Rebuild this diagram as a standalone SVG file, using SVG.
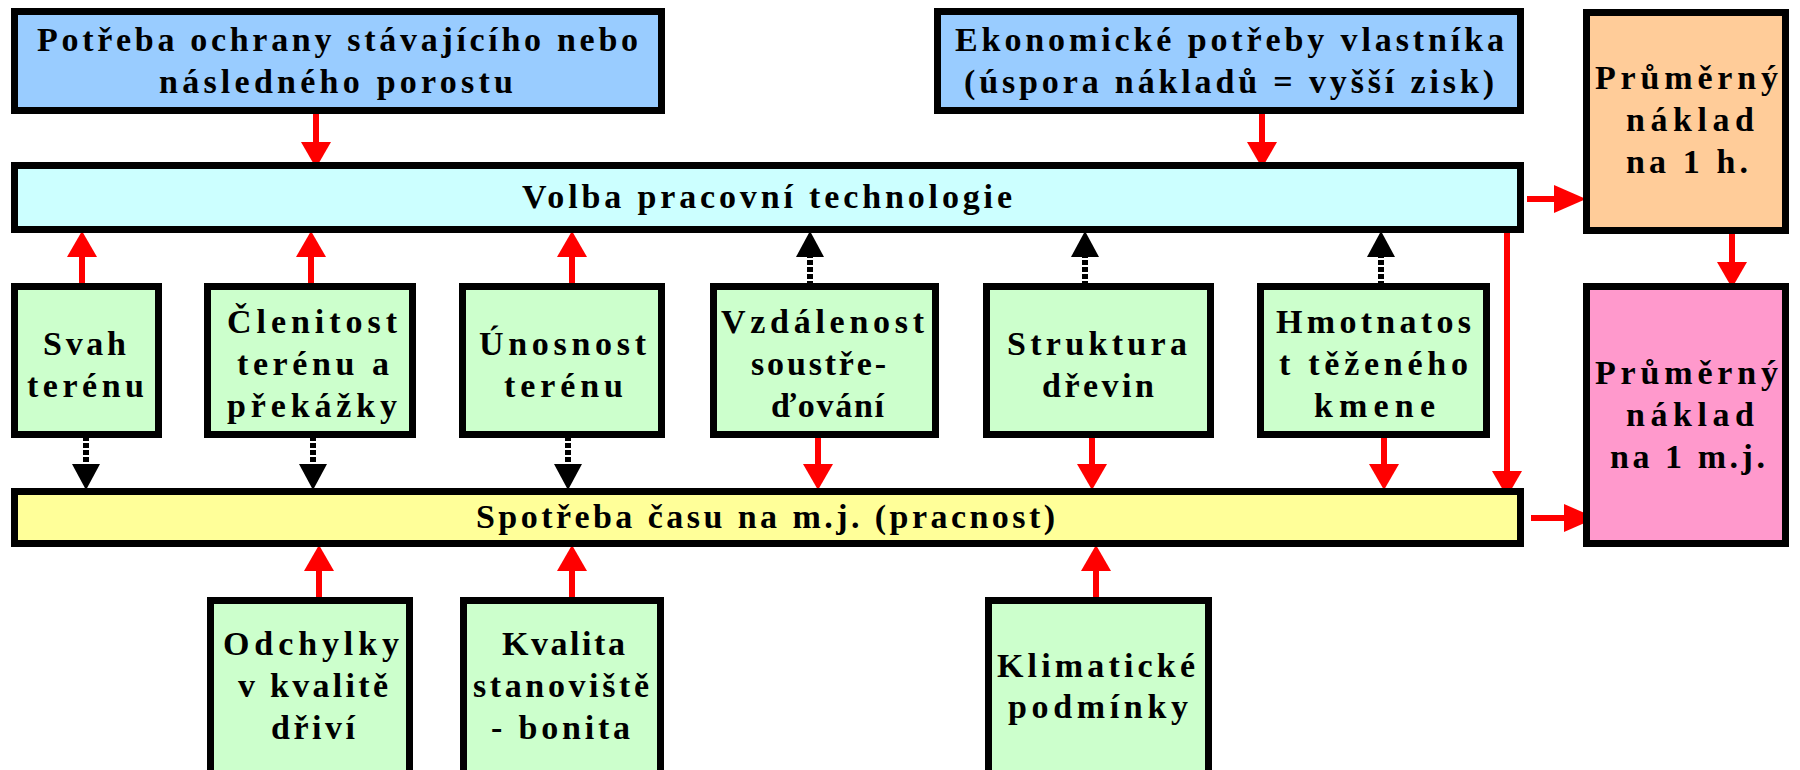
<svg xmlns="http://www.w3.org/2000/svg" width="1800" height="770" viewBox="0 0 1800 770">
<style>
.box{stroke:#000;stroke-width:7}
.blue{fill:#99CCFF}.cyan{fill:#CCFFFF}.green{fill:#CCFFCC}.yellow{fill:#FFFF99}.orange{fill:#FFCC99}.pink{fill:#FF99CC}
text{font-family:"Liberation Serif","Times New Roman",serif;font-weight:bold;font-size:34px;fill:#000}
.red{stroke:#FF0000;stroke-width:6;fill:none}
.dash{stroke:#000;stroke-width:6;stroke-dasharray:5 2;fill:none}
</style>
<defs>
<marker id="ar" markerUnits="userSpaceOnUse" viewBox="0 0 26 30" markerWidth="26" markerHeight="30" refX="6" refY="15" orient="auto"><path d="M0,0 L26,15 L0,30 z" fill="#FF0000"/></marker>
<marker id="arh" markerUnits="userSpaceOnUse" viewBox="0 0 32 28" markerWidth="32" markerHeight="28" refX="8" refY="14" orient="auto"><path d="M0,0 L32,14 L0,28 z" fill="#FF0000"/></marker>
<marker id="ab" markerUnits="userSpaceOnUse" viewBox="0 0 26 28" markerWidth="26" markerHeight="28" refX="6" refY="14" orient="auto"><path d="M0,0 L26,14 L0,28 z" fill="#000"/></marker>
</defs>
<rect width="1800" height="770" fill="#fff"/>

<g id="connectors">
<line class="red" x1="316" y1="114" x2="316" y2="148" marker-end="url(#ar)"/>
<line class="red" x1="1262" y1="114" x2="1262" y2="148" marker-end="url(#ar)"/>
<line class="red" x1="82" y1="286" x2="82" y2="251" marker-end="url(#ar)"/>
<line class="red" x1="311" y1="286" x2="311" y2="251" marker-end="url(#ar)"/>
<line class="red" x1="572" y1="286" x2="572" y2="251" marker-end="url(#ar)"/>
<line class="dash" x1="810" y1="286" x2="810" y2="251" marker-end="url(#ab)"/>
<line class="dash" x1="1085" y1="286" x2="1085" y2="251" marker-end="url(#ab)"/>
<line class="dash" x1="1381" y1="286" x2="1381" y2="251" marker-end="url(#ab)"/>
<line class="dash" x1="86" y1="436" x2="86" y2="470" marker-end="url(#ab)"/>
<line class="dash" x1="313" y1="436" x2="313" y2="470" marker-end="url(#ab)"/>
<line class="dash" x1="568" y1="436" x2="568" y2="470" marker-end="url(#ab)"/>
<line class="red" x1="818" y1="436" x2="818" y2="470" marker-end="url(#ar)"/>
<line class="red" x1="1092" y1="436" x2="1092" y2="470" marker-end="url(#ar)"/>
<line class="red" x1="1384" y1="436" x2="1384" y2="470" marker-end="url(#ar)"/>
<line class="red" x1="1507" y1="233" x2="1507" y2="477" marker-end="url(#ar)"/>
<line class="red" x1="1527" y1="199" x2="1562" y2="199" marker-end="url(#arh)"/>
<line class="red" x1="1732" y1="233" x2="1732" y2="268" marker-end="url(#ar)"/>
<line class="red" x1="1531" y1="518" x2="1572" y2="518" marker-end="url(#arh)"/>
<line class="red" x1="319" y1="602" x2="319" y2="565" marker-end="url(#ar)"/>
<line class="red" x1="572" y1="602" x2="572" y2="565" marker-end="url(#ar)"/>
<line class="red" x1="1096" y1="602" x2="1096" y2="565" marker-end="url(#ar)"/>
</g>

<g id="potreba"><rect class="box blue" x="14.5" y="11.5" width="647" height="99"/>
<text x="37" y="51" textLength="601">Potřeba ochrany stávajícího nebo</text>
<text x="159" y="93" textLength="354">následného porostu</text></g>

<g id="ekonomicke"><rect class="box blue" x="937.5" y="11.5" width="583" height="99"/>
<text x="955" y="51" textLength="549">Ekonomické potřeby vlastníka</text>
<text x="964" y="93" textLength="530">(úspora nákladů = vyšší zisk)</text></g>

<g id="naklad-h"><rect class="box orange" x="1586.5" y="12.5" width="199" height="218"/>
<text x="1595" y="89" textLength="183">Průměrný</text>
<text x="1626" y="131" textLength="128">náklad</text>
<text x="1626" y="173" textLength="122">na 1 h.</text></g>

<g id="volba"><rect class="box cyan" x="14.5" y="165.5" width="1506" height="64"/>
<text x="522" y="208" textLength="490">Volba pracovní technologie</text></g>

<g id="svah"><rect class="box green" x="14.5" y="286.5" width="144" height="148"/>
<text x="43" y="355" textLength="83">Svah</text>
<text x="27" y="397" textLength="117">terénu</text></g>

<g id="clenitost"><rect class="box green" x="207.5" y="286.5" width="205" height="148"/>
<text x="227" y="333" textLength="170">Členitost</text>
<text x="237" y="375" textLength="152">terénu a</text>
<text x="227" y="417" textLength="170">překážky</text></g>

<g id="unosnost"><rect class="box green" x="462.5" y="286.5" width="199" height="148"/>
<text x="479" y="355" textLength="167">Únosnost</text>
<text x="504" y="397" textLength="119">terénu</text></g>

<g id="vzdalenost"><rect class="box green" x="713.5" y="286.5" width="222" height="148"/>
<text x="721" y="333" textLength="203">Vzdálenost</text>
<text x="751" y="375" textLength="135">soustře-</text>
<text x="771" y="417" textLength="113">ďování</text></g>

<g id="struktura"><rect class="box green" x="986.5" y="286.5" width="224" height="148"/>
<text x="1007" y="355" textLength="180">Struktura</text>
<text x="1042" y="397" textLength="112">dřevin</text></g>

<g id="hmotnatost"><rect class="box green" x="1260.5" y="286.5" width="226" height="148"/>
<text x="1276" y="333" textLength="195">Hmotnatos</text>
<text x="1279" y="375" textLength="189">t těženého</text>
<text x="1314" y="417" textLength="121">kmene</text></g>

<g id="naklad-mj"><rect class="box pink" x="1586.5" y="286.5" width="199" height="257"/>
<text x="1595" y="384" textLength="183">Průměrný</text>
<text x="1626" y="426" textLength="128">náklad</text>
<text x="1610" y="468" textLength="155">na 1 m.j.</text></g>

<g id="spotreba"><rect class="box yellow" x="14.5" y="491.5" width="1506" height="52"/>
<text x="476" y="528" textLength="579">Spotřeba času na m.j. (pracnost)</text></g>

<g id="odchylky"><rect class="box green" x="210.5" y="600.5" width="199" height="180"/>
<text x="223" y="655" textLength="176">Odchylky</text>
<text x="238" y="697" textLength="150">v kvalitě</text>
<text x="271" y="739" textLength="84">dřiví</text></g>

<g id="kvalita"><rect class="box green" x="463.5" y="600.5" width="197" height="180"/>
<text x="502" y="655" textLength="123">Kvalita</text>
<text x="473" y="697" textLength="176">stanoviště</text>
<text x="491" y="739" textLength="139">- bonita</text></g>

<g id="klimaticke"><rect class="box green" x="988.5" y="600.5" width="220" height="180"/>
<text x="997" y="677" textLength="198">Klimatické</text>
<text x="1008" y="718" textLength="180">podmínky</text></g>
</svg>
